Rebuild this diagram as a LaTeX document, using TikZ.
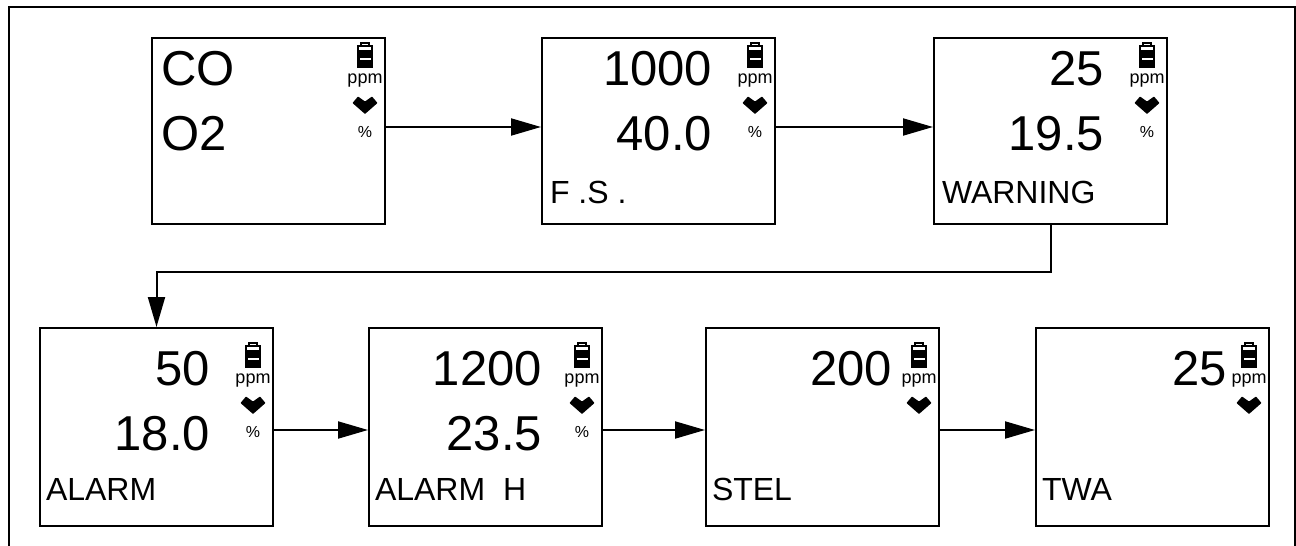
\documentclass[tikz,border=0pt]{standalone}
\usepackage{fontspec}
\setmainfont{Liberation Sans}
\usetikzlibrary{positioning, arrows.meta}

\tikzset{
  pics/battery/.style={code={
    \draw[line width=1.2pt] (-4,0) rectangle (4,3);
    \draw[line width=1.2pt] (-7,3) rectangle (7,24);
    \fill (-7,7) rectangle (7,24);
    \fill[white] (-5.5,15) rectangle (5.5,16.5);
  }},
  pics/heart/.style={code={
    \fill[rounded corners=0.6pt] (0,9) -- (-12.5,-2) -- (-7,-8.5) -- (0,-3.5) -- (7,-8.5) -- (12.5,-2) -- cycle;
  }}
}

\begin{document}
\begin{tikzpicture}[x=1pt, y=-1pt, line width=2pt]
    % Tyylit
    \tikzstyle{screen}=[draw, rectangle, minimum width=233pt, anchor=north west, inner sep=0pt]
    \tikzstyle{big}=[inner sep=0pt, font=\fontsize{49}{49}\selectfont]
    \tikzstyle{mode}=[inner sep=0pt, anchor=base west, font=\fontsize{32}{32}\selectfont]
    \tikzstyle{unit}=[inner sep=0pt, anchor=base, font=\fontsize{18}{18}\selectfont]
    \tikzstyle{pct}=[inner sep=0pt, anchor=base, font=\fontsize{16}{16}\selectfont]
    \tikzstyle{arrow}=[-{Triangle[length=30pt, width=17pt]}, line width=2pt]

    \useasboundingbox (0,0) rectangle (1296,546);
    % Kehys
    \draw (9,546) -- (9,7) -- (1295,7) -- (1295,546);

    % Naytot (ylarivi)
    \node[screen, minimum height=186pt] (co) at (151,37) {};
    \node[screen, minimum height=186pt] (fs) at (541,37) {};
    \node[screen, minimum height=186pt] (warn) at (933,37) {};
    % Naytot (alarivi)
    \node[screen, minimum height=198pt] (alarm) at (39,327) {};
    \node[screen, minimum height=198pt] (alarmh) at (368,327) {};
    \node[screen, minimum height=198pt] (stel) at (705,327) {};
    \node[screen, minimum height=198pt] (twa) at (1035,327) {};

    % Kaasut
    \node[big, anchor=base west] at ([shift={(9,48)}]co.north west) {CO};
    \node[big, anchor=base west] at ([shift={(9,113)}]co.north west) {O2};
    \pic at ([shift={(214,6)}]co.north west) {battery};
    \node[unit] at ([shift={(214,46)}]co.north west) {ppm};
    \pic at ([shift={(214,68)}]co.north west) {heart};
    \node[pct] at ([shift={(214,100)}]co.north west) {\%};

    % Mittausalue
    \node[big, anchor=base east] at ([shift={(172,48)}]fs.north west) {1000};
    \node[big, anchor=base east] at ([shift={(172,113)}]fs.north west) {40.0};
    \node[mode] at ([shift={(8,166)}]fs.north west) {F .S .};
    \pic at ([shift={(214,6)}]fs.north west) {battery};
    \node[unit] at ([shift={(214,46)}]fs.north west) {ppm};
    \pic at ([shift={(214,68)}]fs.north west) {heart};
    \node[pct] at ([shift={(214,100)}]fs.north west) {\%};

    % Varoitus
    \node[big, anchor=base east] at ([shift={(172,48)}]warn.north west) {25};
    \node[big, anchor=base east] at ([shift={(172,113)}]warn.north west) {19.5};
    \node[mode] at ([shift={(8,166)}]warn.north west) {WARNING};
    \pic at ([shift={(214,6)}]warn.north west) {battery};
    \node[unit] at ([shift={(214,46)}]warn.north west) {ppm};
    \pic at ([shift={(214,68)}]warn.north west) {heart};
    \node[pct] at ([shift={(214,100)}]warn.north west) {\%};

    % Halytys
    \node[big, anchor=base east] at ([shift={(172,58)}]alarm.north west) {50};
    \node[big, anchor=base east] at ([shift={(172,123)}]alarm.north west) {18.0};
    \node[mode] at ([shift={(6,173)}]alarm.north west) {ALARM};
    \pic at ([shift={(214,16)}]alarm.north west) {battery};
    \node[unit] at ([shift={(214,56)}]alarm.north west) {ppm};
    \pic at ([shift={(214,78)}]alarm.north west) {heart};
    \node[pct] at ([shift={(214,110)}]alarm.north west) {\%};

    % Halytys H
    \node[big, anchor=base east] at ([shift={(175,58)}]alarmh.north west) {1200};
    \node[big, anchor=base east] at ([shift={(175,123)}]alarmh.north west) {23.5};
    \node[mode] at ([shift={(6,173)}]alarmh.north west) {ALARM\ \ H};
    \pic at ([shift={(214,16)}]alarmh.north west) {battery};
    \node[unit] at ([shift={(214,56)}]alarmh.north west) {ppm};
    \pic at ([shift={(214,78)}]alarmh.north west) {heart};
    \node[pct] at ([shift={(214,110)}]alarmh.north west) {\%};

    % STEL
    \node[big, anchor=base east] at ([shift={(188,58)}]stel.north west) {200};
    \node[mode] at ([shift={(6,173)}]stel.north west) {STEL};
    \pic at ([shift={(214,16)}]stel.north west) {battery};
    \node[unit] at ([shift={(214,56)}]stel.north west) {ppm};
    \pic at ([shift={(214,78)}]stel.north west) {heart};

    % TWA
    \node[big, anchor=base east] at ([shift={(193,58)}]twa.north west) {25};
    \node[mode] at ([shift={(6,173)}]twa.north west) {TWA};
    \pic at ([shift={(214,16)}]twa.north west) {battery};
    \node[unit] at ([shift={(214,56)}]twa.north west) {ppm};
    \pic at ([shift={(214,78)}]twa.north west) {heart};

    % Nuolet
    \draw[arrow] ([yshift=4pt]co.east) -- ([yshift=4pt]fs.west);
    \draw[arrow] ([yshift=4pt]fs.east) -- ([yshift=4pt]warn.west);
    \draw[arrow] (warn.south) -- ([yshift=-47pt]warn.south) -| (alarm.north);
    \draw[arrow] ([yshift=-3pt]alarm.east) -- ([yshift=-3pt]alarmh.west);
    \draw[arrow] ([yshift=-3pt]alarmh.east) -- ([yshift=-3pt]stel.west);
    \draw[arrow] ([yshift=-3pt]stel.east) -- ([yshift=-3pt]twa.west);
\end{tikzpicture}
\end{document}
